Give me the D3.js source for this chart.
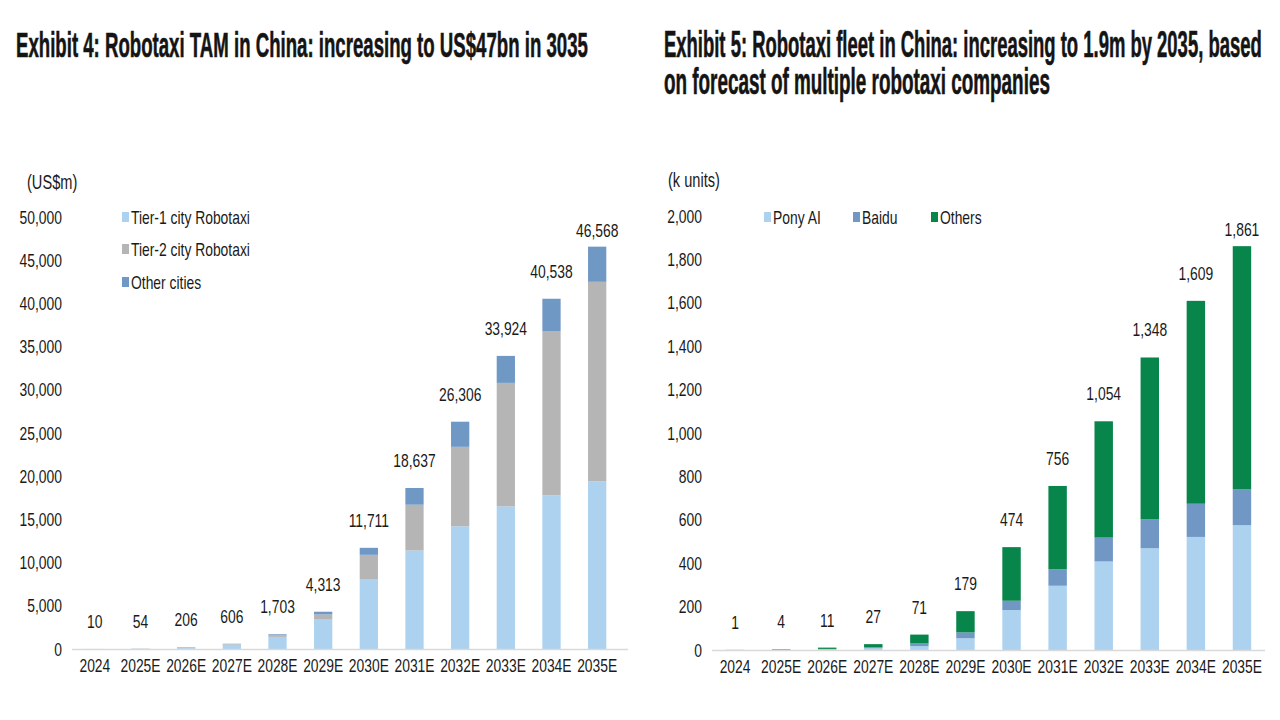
<!doctype html>
<html lang="en">
<head>
  <meta charset="utf-8">
  <title>Robotaxi in China</title>
  <style>
body { margin: 0; background: #fff; }
text { font-family: "Liberation Sans", Arial, sans-serif; fill: #1a1a1a; }
.title { font-weight: bold; font-size: 36px; fill: #141414; stroke: #141414; stroke-width: 0.6px; }
.tick, .total, .cat, .legend { font-size: 19px; }
.unit { font-size: 20px; }
  </style>
</head>
<body>
  <script src="https://d3js.org/d3.v7.min.js"></script>
  <script>
var years = ["2024", "2025E", "2026E", "2027E", "2028E", "2029E", "2030E", "2031E", "2032E", "2033E", "2034E", "2035E"];

// Exhibit 4: TAM, US$m
var tier1 = [10, 30, 100, 500, 1400, 3400, 8100, 11400, 14200, 16500, 17800, 19400];
var tier2 = [0, 18, 80, 70, 200, 600, 2800, 5300, 9200, 14300, 19000, 23100];
var otherCities = [0, 6, 26, 36, 103, 313, 811, 1937, 2906, 3124, 3738, 4068];
var tamTotal = [10, 54, 206, 606, 1703, 4313, 11711, 18637, 26306, 33924, 40538, 46568];
var tamTicks = [0, 5000, 10000, 15000, 20000, 25000, 30000, 35000, 40000, 45000, 50000];

// Exhibit 5: fleet, k units
var pony = [0.5, 1, 3, 8, 18, 54, 184, 296, 408, 469, 521, 575];
var baidu = [0.3, 1, 2, 5, 12, 27, 43, 76, 110, 133, 153, 165];
var others = [0.2, 2, 6, 14, 41, 98, 247, 384, 536, 746, 935, 1121];
var fleetTotal = [1, 4, 11, 27, 71, 179, 474, 756, 1054, 1348, 1609, 1861];
var fleetTicks = [0, 200, 400, 600, 800, 1000, 1200, 1400, 1600, 1800, 2000];

var fmt = d3.format(",");
var NARROW = 0.73; // no narrow font installed, so squeeze Liberation Sans

var svg = d3.select("body").append("svg")
    .attr("width", 1280)
    .attr("height", 720);

// move x/y into a transform and scale the text horizontally by k
// (k can be a function of the node, e.g. to hit a target width)
function squeeze(sel, k) {
  sel.each(function() {
    var t = d3.select(this),
        x = +t.attr("x") || 0,
        y = +t.attr("y") || 0,
        s = typeof k === "function" ? k(this) : k;
    t.attr("x", 0).attr("y", 0)
     .attr("transform", "translate(" + x + "," + y + ") scale(" + s + ",1)");
  });
}

function title(txt, x, y, w) {
  var t = svg.append("text").attr("class", "title")
      .attr("x", x).attr("y", y)
      .text(txt);
  squeeze(t, function(node) { return w / node.getComputedTextLength(); });
}
title("Exhibit 4: Robotaxi TAM in China: increasing to US$47bn in 3035", 16, 57, 572);
title("Exhibit 5: Robotaxi fleet in China: increasing to 1.9m by 2035, based", 664, 57, 598);
title("on forecast of multiple robotaxi companies", 664, 94, 386);

function drawChart(opt) {
  var rows = years.map(function(y, i) {
    var r = {year: y, total: opt.totals[i]};
    opt.series.forEach(function(s) { r[s.key] = s.values[i]; });
    return r;
  });

  var x = d3.scaleBand()
      .domain(years)
      .range([opt.x0, opt.x1])
      .paddingInner(0.6)
      .paddingOuter(0.3);

  var y = d3.scaleLinear()
      .domain([0, opt.ticks[opt.ticks.length - 1]])
      .range([opt.y0, opt.y1]);

  var g = svg.append("g");

  // y tick labels only, no axis line
  g.selectAll(".tick")
      .data(opt.ticks)
      .enter().append("text")
      .attr("class", "tick")
      .attr("x", opt.tickX)
      .attr("y", function(d) { return y(d); })
      .attr("dy", "0.35em")
      .attr("text-anchor", "end")
      .text(fmt);

  g.append("text").attr("class", "unit")
      .attr("x", opt.unitX).attr("y", opt.unitY)
      .attr("dy", "0.35em")
      .text(opt.unit);

  var stack = d3.stack().keys(opt.series.map(function(s) { return s.key; }));
  var layers = stack(rows);

  g.selectAll(".layer")
      .data(layers)
      .enter().append("g")
      .attr("fill", function(d, i) { return opt.series[i].color; })
      .selectAll("rect")
      .data(function(d) { return d; })
      .enter().append("rect")
      .attr("x", function(d) { return x(d.data.year); })
      .attr("width", x.bandwidth())
      .attr("y", function(d) { return y(d[1]); })
      .attr("height", function(d) { return y(d[0]) - y(d[1]); });

  // baseline
  g.append("line")
      .attr("x1", opt.x0).attr("x2", opt.x1 + opt.lineExtra)
      .attr("y1", opt.y0 + 0.5).attr("y2", opt.y0 + 0.5)
      .attr("stroke", "#d9d9d9")
      .attr("stroke-width", 1.5);

  g.selectAll(".cat")
      .data(years)
      .enter().append("text")
      .attr("class", "cat")
      .attr("x", function(d) { return x(d) + x.bandwidth() / 2; })
      .attr("y", opt.y0 + 23)
      .attr("text-anchor", "middle")
      .text(function(d) { return d; });

  g.selectAll(".total")
      .data(rows)
      .enter().append("text")
      .attr("class", "total")
      .attr("x", function(d) { return x(d.year) + x.bandwidth() / 2; })
      .attr("y", function(d) { return Math.max(y(d.total) - 21, opt.y1 + 20); })
      .attr("text-anchor", "middle")
      .text(function(d) { return fmt(d.total); });

  // legend
  var lg = g.selectAll(".legend")
      .data(opt.series)
      .enter().append("g")
      .attr("transform", function(d, i) {
        return "translate(" + opt.legend[i][0] + "," + opt.legend[i][1] + ")";
      });
  lg.append("rect")
      .attr("x", 0).attr("y", -5)
      .attr("width", 7).attr("height", 10)
      .attr("fill", function(d) { return d.color; });
  lg.append("text").attr("class", "legend")
      .attr("x", 9).attr("dy", "0.35em")
      .text(function(d) { return d.name; });

  squeeze(g.selectAll("text"), NARROW);
}

drawChart({
  series: [
    {key: "t1", name: "Tier-1 city Robotaxi", values: tier1, color: "#acd2ef"},
    {key: "t2", name: "Tier-2 city Robotaxi", values: tier2, color: "#b5b5b5"},
    {key: "oc", name: "Other cities", values: otherCities, color: "#6f98c5"}
  ],
  totals: tamTotal,
  ticks: tamTicks,
  x0: 72, x1: 620, lineExtra: 8,
  y0: 649, y1: 217,
  tickX: 62,
  unit: "(US$m)", unitX: 27, unitY: 182,
  legend: [[122, 217], [122, 249], [122, 282]]
});

drawChart({
  series: [
    {key: "pony", name: "Pony AI", values: pony, color: "#acd2ef"},
    {key: "baidu", name: "Baidu", values: baidu, color: "#7198c5"},
    {key: "others", name: "Others", values: others, color: "#08854a"}
  ],
  totals: fleetTotal,
  ticks: fleetTicks,
  x0: 712, x1: 1265, lineExtra: 0,
  y0: 650, y1: 216,
  tickX: 702,
  unit: "(k units)", unitX: 668, unitY: 180,
  legend: [[764, 217], [853, 217], [931, 217]]
});
  </script>
</body>
</html>
